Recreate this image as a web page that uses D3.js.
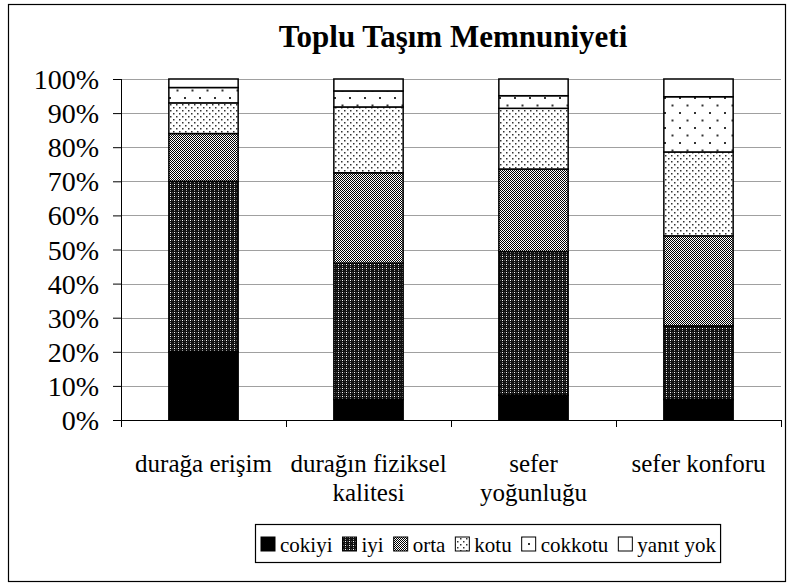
<!DOCTYPE html>
<html>
<head>
<meta charset="utf-8">
<title>Toplu Taşım Memnuniyeti</title>
<script src="https://cdn.jsdelivr.net/npm/d3@7"></script>
<style>
    body { margin: 0; background: #fff; }
</style>
</head>
<body>
<script>
    var FONT = "Liberation Serif";

    // categories (x axis, split into label lines)
    var categories = ["durağa erişim", "durağın fiziksel kalitesi", "sefer yoğunluğu", "sefer konforu"];
    var categoryLines = [["durağa erişim"], ["durağın fiziksel", "kalitesi"], ["sefer", "yoğunluğu"], ["sefer konforu"]];

    // series, bottom to top (percent of answers)
    var seriesNames = ["cokiyi", "iyi", "orta", "kotu", "cokkotu", "yanıt yok"];
    var cokiyi   = [20,   6,    7.3,  6];
    var iyi      = [50,   40,   42.1, 21.6];
    var orta     = [14,   26.5, 24.2, 26.4];
    var kotu     = [9,    19.3, 17.8, 24.6];
    var cokkotu  = [4.5,  4.7,  3.7,  16.2];
    var yanitYok = [2.5,  3.5,  4.9,  5.2];

    var yTicks = [0, 10, 20, 30, 40, 50, 60, 70, 80, 90, 100];

    var seriesValues = [cokiyi, iyi, orta, kotu, cokkotu, yanitYok];
    var table = categories.map(function (c, i) {
        var row = { category: c };
        seriesNames.forEach(function (s, j) { row[s] = seriesValues[j][i]; });
        return row;
    });

    var W = 793, H = 587;
    var margin = { top: 79, right: 12, bottom: 167, left: 121 };
    var width = W - margin.left - margin.right,
        height = H - margin.top - margin.bottom;

    var svg = d3.select("body").append("svg")
        .attr("width", W)
        .attr("height", H);

    // fill patterns
    var defs = svg.append("defs");
    var p;
    p = defs.append("pattern").attr("id", "p-iyi").attr("patternUnits", "userSpaceOnUse")
        .attr("width", 4).attr("height", 4);
    p.append("rect").attr("width", 4).attr("height", 4).attr("fill", "#111");
    p.append("rect").attr("x", 1).attr("y", 1).attr("width", 1).attr("height", 1).attr("fill", "#fff");
    p.append("rect").attr("x", 1).attr("y", 3).attr("width", 1).attr("height", 1).attr("fill", "#999");
    p.append("rect").attr("x", 3).attr("y", 1).attr("width", 1).attr("height", 1).attr("fill", "#555");

    p = defs.append("pattern").attr("id", "p-orta").attr("patternUnits", "userSpaceOnUse")
        .attr("width", 2).attr("height", 2);
    p.append("rect").attr("width", 2).attr("height", 2).attr("fill", "#fff");
    p.append("rect").attr("width", 1).attr("height", 1).attr("fill", "#000");
    p.append("rect").attr("x", 1).attr("y", 1).attr("width", 1).attr("height", 1).attr("fill", "#000");

    p = defs.append("pattern").attr("id", "p-kotu").attr("patternUnits", "userSpaceOnUse")
        .attr("width", 6).attr("height", 6);
    p.append("rect").attr("width", 6).attr("height", 6).attr("fill", "#fff");
    p.append("rect").attr("x", 1).attr("y", 1).attr("width", 1.5).attr("height", 1.5).attr("fill", "#333");
    p.append("rect").attr("x", 4).attr("y", 4).attr("width", 1.5).attr("height", 1.5).attr("fill", "#333");

    p = defs.append("pattern").attr("id", "p-cokkotu").attr("patternUnits", "userSpaceOnUse")
        .attr("width", 15).attr("height", 15);
    p.append("rect").attr("width", 15).attr("height", 15).attr("fill", "#fff");
    p.append("rect").attr("x", 3).attr("y", 3).attr("width", 2).attr("height", 2).attr("fill", "#333");
    p.append("rect").attr("x", 10.5).attr("y", 10.5).attr("width", 2).attr("height", 2).attr("fill", "#333");

    var fills = {
        "cokiyi": "#000",
        "iyi": "url(#p-iyi)",
        "orta": "url(#p-orta)",
        "kotu": "url(#p-kotu)",
        "cokkotu": "url(#p-cokkotu)",
        "yanıt yok": "#fff"
    };

    // outer frame
    svg.append("rect")
        .attr("x", 8.5).attr("y", 4.5)
        .attr("width", 777).attr("height", 577)
        .attr("fill", "none").attr("stroke", "#000").attr("stroke-width", 1.2);

    svg.append("text")
        .attr("x", 453).attr("y", 47)
        .attr("text-anchor", "middle")
        .style("font-family", FONT)
        .style("font-size", "31px").style("font-weight", "bold")
        .text("Toplu Taşım Memnuniyeti");

    var g = svg.append("g")
        .attr("transform", "translate(" + margin.left + "," + margin.top + ")");

    var x = d3.scaleBand()
        .domain(categories)
        .range([0, width])
        .paddingInner(0.58)
        .paddingOuter(0.29);
    var y = d3.scaleLinear()
        .domain([0, 100])
        .range([height, 0]);

    // gridlines
    g.append("g")
        .selectAll("line")
        .data(yTicks.filter(function (d) { return d > 0; }))
        .enter().append("line")
        .attr("x1", 0).attr("x2", width)
        .attr("y1", function (d) { return Math.round(y(d)) + 0.5; })
        .attr("y2", function (d) { return Math.round(y(d)) + 0.5; })
        .attr("stroke", "#a0a0a0").attr("stroke-width", 1);

    var stack = d3.stack().keys(seriesNames);
    var layers = stack(table);

    g.selectAll("g.layer")
        .data(layers)
        .enter().append("g")
        .attr("class", "layer")
        .attr("fill", function (d) { return fills[d.key]; })
        .selectAll("rect")
        .data(function (d) { return d; })
        .enter().append("rect")
        .attr("x", function (d) { return x(d.data.category); })
        .attr("width", x.bandwidth())
        .attr("y", function (d) { return y(d[1]); })
        .attr("height", function (d) { return y(d[0]) - y(d[1]); })
        .attr("stroke", "#000")
        .attr("stroke-width", 1.5);

    // y axis
    var yAxis = d3.axisLeft(y)
        .tickValues(yTicks)
        .tickSize(8)
        .tickPadding(14)
        .tickFormat(function (d) { return d + "%"; });
    var ya = g.append("g").call(yAxis)
        .attr("font-family", FONT)
        .attr("font-size", 28);
    ya.select(".domain").attr("stroke", "#000").attr("d", "M0.5,0V" + height);
    ya.selectAll("text").attr("dy", "0.34em");

    // x axis, ticks at the category boundaries
    var step = x.step();
    var xa = g.append("g").attr("transform", "translate(0," + height + ")");
    xa.append("line").attr("x1", 0).attr("x2", width).attr("y1", 0.5).attr("y2", 0.5)
        .attr("stroke", "#000").attr("stroke-width", 1.2);
    xa.selectAll("line.tick")
        .data(d3.range(categories.length + 1))
        .enter().append("line")
        .attr("class", "tick")
        .attr("x1", function (i) { return Math.round(i * step) + 0.5; })
        .attr("x2", function (i) { return Math.round(i * step) + 0.5; })
        .attr("y1", 0).attr("y2", 7)
        .attr("stroke", "#000");
    xa.selectAll("text")
        .data(categories)
        .enter().append("text")
        .attr("text-anchor", "middle")
        .attr("x", function (d) { return x(d) + x.bandwidth() / 2; })
        .attr("y", 52)
        .style("font-family", FONT)
        .style("font-size", "25px")
        .selectAll("tspan")
        .data(function (d, i) { return categoryLines[i]; })
        .enter().append("tspan")
        .attr("x", function () { var c = this.parentNode.__data__; return x(c) + x.bandwidth() / 2; })
        .attr("dy", function (d, i) { return i === 0 ? 0 : 29; })
        .text(function (d) { return d; });

    // legend
    var lg = svg.append("g");
    var box = lg.append("rect")
        .attr("fill", "#fff").attr("stroke", "#000").attr("stroke-width", 1.2);
    var cx = 261, ly = 552;
    seriesNames.forEach(function (s) {
        lg.append("rect")
            .attr("x", cx).attr("y", ly - 15)
            .attr("width", 14).attr("height", 14)
            .attr("fill", fills[s]).attr("stroke", "#000").attr("stroke-width", 1);
        var t = lg.append("text")
            .attr("x", cx + 19).attr("y", ly)
            .style("font-family", FONT)
            .style("font-size", "21px")
            .text(s);
        cx += 19 + t.node().getComputedTextLength() + 10;
    });
    box.attr("x", 255.5).attr("y", 524.5).attr("width", cx - 10 + 4 - 255).attr("height", 38);
</script>
</body>
</html>
